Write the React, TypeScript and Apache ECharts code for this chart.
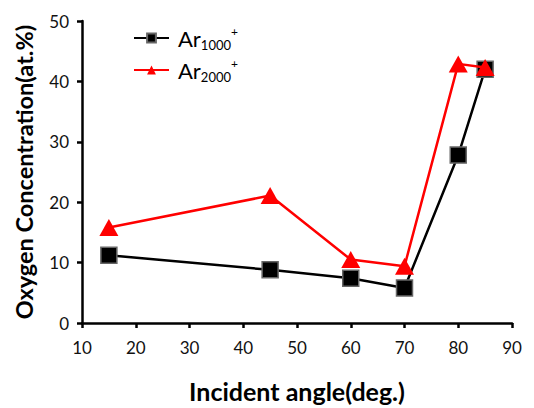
import React, { useEffect, useRef } from "react";
import * as echarts from "echarts";

const angles = [15, 45, 60, 70, 80, 85];
const ar1000 = [11.2, 8.8, 7.4, 5.8, 27.8, 42.0];
const ar2000 = [15.8, 21.1, 10.5, 9.4, 42.9, 42.3];
const seriesNames = ["Ar1000", "Ar2000"];
const subs = ["1000", "2000"];

const FONT = "Lato";

export default function App() {
  const ref = useRef<HTMLDivElement>(null);
  useEffect(() => {
    if (!ref.current) return;
    const chart = echarts.init(ref.current, null, { renderer: "svg" });
    chart.setOption({
      animation: false,
      backgroundColor: "#fff",
      grid: { left: 82, right: 22, top: 21, bottom: 77, containLabel: false },
      legend: {
        orient: "vertical",
        left: 128,
        top: 20,
        itemWidth: 35,
        itemHeight: 11,
        itemGap: 6,
        data: seriesNames,
        formatter: (name: string) => {
          const i = seriesNames.indexOf(name);
          return "{m|Ar}{s|" + subs[i] + "}{p|+}";
        },
        textStyle: {
          fontFamily: FONT,
          color: "#000",
          padding: [0, 0, 0, 4],
          rich: {
            m: { fontSize: 22, fontFamily: FONT, color: "#000", lineHeight: 26, verticalAlign: "middle" },
            s: { fontSize: 13, fontFamily: FONT, color: "#000", verticalAlign: "bottom", lineHeight: 13 },
            p: { fontSize: 12, fontFamily: FONT, color: "#000", verticalAlign: "top", lineHeight: 12 },
          },
        },
      },
      xAxis: {
        type: "value",
        min: 10,
        max: 90,
        interval: 10,
        name: "Incident angle(deg.)",
        nameLocation: "middle",
        nameGap: 55,
        nameTextStyle: { fontFamily: FONT, fontSize: 25, fontWeight: "bold", color: "#000" },
        axisLine: { show: true, lineStyle: { color: "#000", width: 2.5 } },
        axisTick: { show: true, inside: false, length: 5, lineStyle: { color: "#000", width: 2.5 } },
        axisLabel: { fontFamily: FONT, fontSize: 17, color: "#111", margin: 16 },
        splitLine: { show: false },
      },
      yAxis: {
        type: "value",
        min: 0,
        max: 50,
        interval: 10,
        name: "Oxygen Concentration(at.%)",
        nameLocation: "middle",
        nameGap: 46,
        nameTextStyle: { fontFamily: FONT, fontSize: 23.5, fontWeight: "bold", color: "#000" },
        axisLine: { show: true, lineStyle: { color: "#000", width: 2.5 } },
        axisTick: { show: true, inside: false, length: 5, lineStyle: { color: "#000", width: 2.5 } },
        axisLabel: { fontFamily: FONT, fontSize: 17, color: "#111", margin: 13 },
        splitLine: { show: false },
      },
      series: [
        {
          name: seriesNames[0],
          type: "line",
          data: angles.map((a, i) => [a, ar1000[i]]),
          symbol: "rect",
          symbolSize: 16,
          lineStyle: { color: "#000", width: 2.5 },
          itemStyle: { color: "#000", borderColor: "#666", borderWidth: 1.5 },
          z: 2,
        },
        {
          name: seriesNames[1],
          type: "line",
          data: angles.map((a, i) => [a, ar2000[i]]),
          symbol: "triangle",
          symbolSize: [19, 17],
          lineStyle: { color: "#ff0000", width: 2.5 },
          itemStyle: { color: "#ff0000" },
          z: 3,
        },
      ],
    });
    return () => chart.dispose();
  }, []);
  return <div ref={ref} style={{ width: 534, height: 408, position: "absolute", left: 0, top: 0 }} />;
}
